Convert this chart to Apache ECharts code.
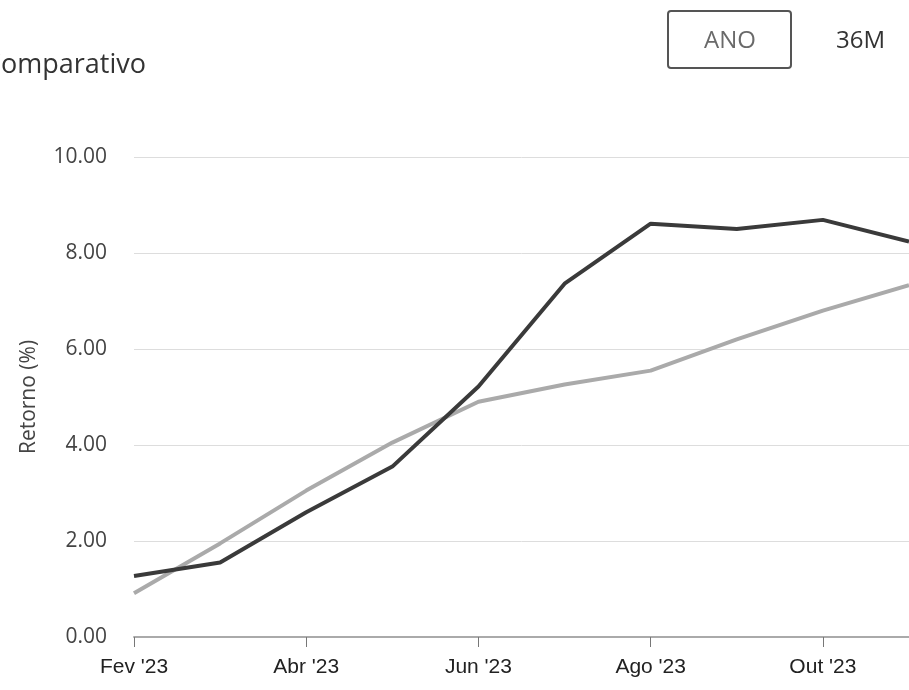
<!DOCTYPE html>
<html>
<head>
<meta charset="utf-8">
<script src="https://cdn.jsdelivr.net/npm/echarts@6/dist/echarts.min.js"></script>
<style>
  html, body { margin: 0; padding: 0; background: #fff; }
  #chart { width: 909px; height: 690px; }
</style>
</head>
<body>
<div id="chart"></div>
<script>
// meses (pontos mensais)
var meses = ["Fev '23", "Mar '23", "Abr '23", "Mai '23", "Jun '23", "Jul '23", "Ago '23", "Set '23", "Out '23", "Nov '23"];
// fundo (linha escura)
var fundo = [1.27, 1.55, 2.6, 3.55, 5.22, 7.36, 8.61, 8.5, 8.69, 8.24];
// referência (linha clara)
var referencia = [0.91, 1.95, 3.05, 4.05, 4.9, 5.26, 5.55, 6.2, 6.8, 7.33];
var botoes = ['ANO', '36M'];

echarts.init(document.getElementById('chart')).setOption({
    animation: false,
    title: {
        text: 'Comparativo',
        left: -21,
        top: 47,
        textStyle: {
            color: '#333',
            fontSize: 27,
            fontWeight: 'normal',
            fontFamily: 'Open Sans'
        }
    },
    graphic: [
        {
            type: 'rect',
            left: 667, top: 10,
            shape: { width: 123, height: 57, r: 3 },
            style: { fill: '#fff', stroke: '#555', lineWidth: 2 }
        },
        {
            type: 'text',
            left: 704, top: 29,
            style: { text: botoes[0], fill: '#6a6a6a', fontSize: 24, fontFamily: 'Open Sans' }
        },
        {
            type: 'text',
            left: 836, top: 29,
            style: { text: botoes[1], fill: '#333', fontSize: 24, fontFamily: 'Open Sans' }
        }
    ],
    grid: {
        left: 134,
        right: -9,
        top: 157,
        bottom: 53
    },
    xAxis: {
        type: 'category',
        boundaryGap: false,
        data: meses,
        axisLine: { lineStyle: { color: '#aaa', width: 2 } },
        axisTick: { interval: 1, length: 10, lineStyle: { color: '#777' } },
        axisLabel: {
            interval: 1,
            margin: 20,
            color: '#222',
            fontSize: 21,
            fontFamily: 'Liberation Sans'
        },
        splitLine: { show: false }
    },
    yAxis: {
        type: 'value',
        min: 0,
        max: 10,
        interval: 2,
        name: 'Retorno (%)',
        nameLocation: 'middle',
        nameGap: 94,
        nameTextStyle: { color: '#444', fontSize: 21, fontFamily: 'Open Sans' },
        axisLine: { show: false },
        axisTick: { show: false },
        axisLabel: {
            margin: 27,
            color: '#444',
            fontSize: 21,
            fontFamily: 'Open Sans',
            formatter: function (v) { return v.toFixed(2); }
        },
        splitLine: { lineStyle: { color: '#ddd', width: 1 } }
    },
    series: [
        {
            name: 'Referência',
            type: 'line',
            data: referencia,
            symbol: 'none',
            lineStyle: { color: '#aaa', width: 4 },
            z: 2
        },
        {
            name: 'Fundo',
            type: 'line',
            data: fundo,
            symbol: 'none',
            lineStyle: { color: '#3a3a3a', width: 4 },
            z: 3
        }
    ]
});
</script>
</body>
</html>
